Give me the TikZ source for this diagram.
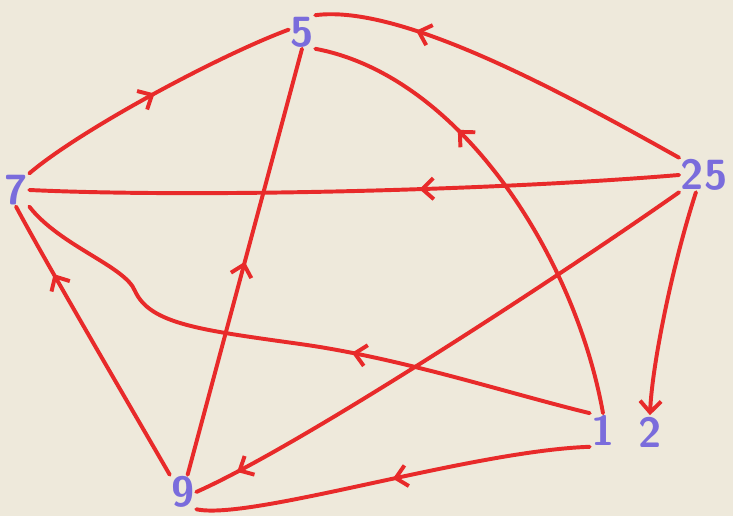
\documentclass[tikz,border=0pt]{standalone}
\usepackage{amsmath}
\usepackage{tikz}
\usetikzlibrary{arrows.meta,decorations.markings}

\definecolor{penred}{RGB}{232,42,42}
\definecolor{ink}{RGB}{122,108,220}
\definecolor{paper}{RGB}{238,233,219}

\tikzset{
  vertex/.style={text=ink, font=\sffamily\bfseries\fontsize{30}{32}\selectfont, inner sep=1pt},
  pen/.style={draw=penred, line width=2.8pt, line cap=round, line join=round},
  barb/.style={-{Straight Barb[length=8pt,width=15pt]}},
  midarrow/.style={postaction={decorate},
    decoration={markings, mark=at position #1 with {\arrow{Straight Barb[length=8pt,width=15pt]}}}}
}

\begin{document}
\begin{tikzpicture}[x=0.025cm,y=0.025cm]
			\fill[paper] (0,0) rectangle (733,516);
			% vertices
			\node[vertex] (n5) at (302,484) {5};
			\node[vertex] (n7) at (16,326) {7};
			\node[vertex] (n25) at (704,341) {25};
			\node[vertex] (n9) at (183,24) {9};
			\node[vertex] (n1) at (603,86) {1};
			\node[vertex] (n2) at (650,84) {2};
			% arcs
			\draw[pen,midarrow=0.5] (n7.north east) .. controls (80,386) and (220,461) .. (n5.170);
			\draw[pen,midarrow=0.74] (n25.north west) .. controls (560,425) and (400,512) .. (n5.north east);
			\draw[pen,midarrow=0.4] (n25.west) .. controls (500,326) and (200,318) .. (n7.east);
			\draw[pen,midarrow=0.66] (n1.north) .. controls (575,260) and (460,440) .. (n5.south east);
			\draw[pen,midarrow=0.5] (n9.75) -- (n5.south);
			\draw[pen,midarrow=0.4] (n1.north west) .. controls (500,125) and (400,158) .. (300,172)
			  .. controls (200,186) and (150,192) .. (135,225)
			  .. controls (125,250) and (60,270) .. (n7.south east);
			\draw[pen,midarrow=0.75] (n9.north west) .. controls (130,110) and (45,255) .. (n7.south);
			\draw[pen,midarrow=0.92] (n25.south west) .. controls (560,240) and (300,70) .. (n9.east);
			\draw[pen,midarrow=0.5] (n1.south west) .. controls (470,65) and (250,-5) .. (n9.south east);
			\draw[pen,barb] (n25.-115) .. controls (672,250) and (652,150) .. (n2.north);
		\end{tikzpicture}
\end{document}
